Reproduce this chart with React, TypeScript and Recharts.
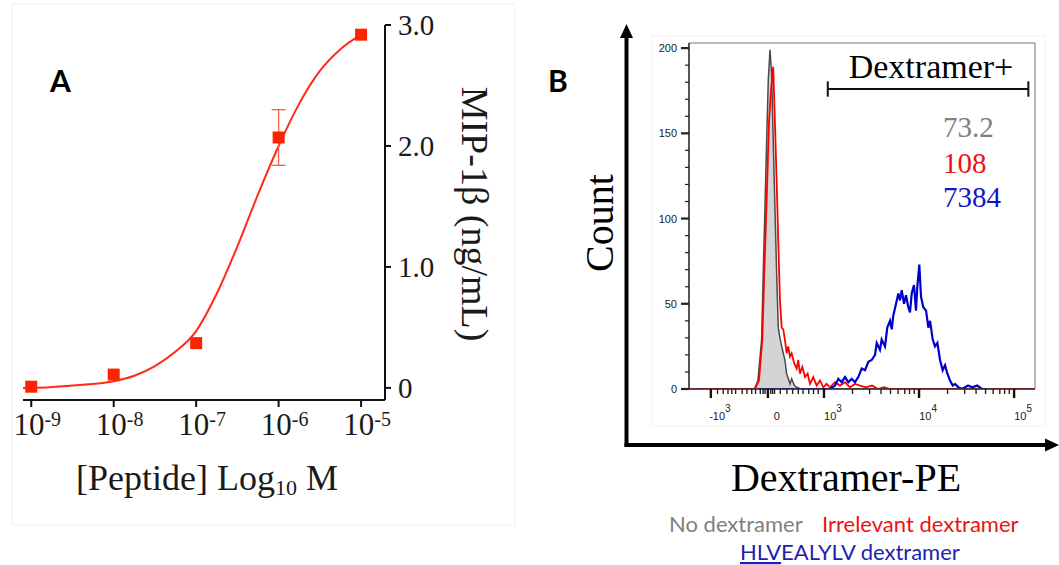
import {
  ComposedChart,
  Line,
  Scatter,
  ErrorBar,
  Area,
  XAxis,
  YAxis,
  ReferenceArea,
  ReferenceLine,
} from "recharts";

const SERIF = '"Liberation Serif", "Times New Roman", Times, serif';
const ARIAL = '"Liberation Sans", Arial, sans-serif';
const CALIBRI = 'Lato, "Open Sans", sans-serif';

// ---- panel A: MIP-1β release vs peptide concentration ----
const doseExponents = [-9, -8, -7, -6, -5];
const mipMeans = [0.01, 0.11, 0.37, 2.07, 2.92];
const mipErrors = [null, null, null, [0.23, 0.23], null];
const fitExponents = [-9.1, -9, -8.5, -8, -7.75, -7.5, -7.25, -7, -6.75, -6.5, -6.25, -6, -5.75, -5.5, -5.25, -5];
const fitMip = [0, 0, 0.02, 0.055, 0.1, 0.18, 0.3, 0.47, 0.78, 1.17, 1.6, 2.0, 2.35, 2.62, 2.8, 2.92];
const mipTicks = [0, 1, 2, 3];

const dosePoints = doseExponents.map((x, i) => ({ x, y: mipMeans[i], err: mipErrors[i] ?? undefined }));
const fitCurve = fitExponents.map((x, i) => ({ x, y: fitMip[i] }));

// ---- panel B: dextramer-PE histograms (x in display decades) ----
const noDextramer = [
  [1.58, 0], [2.27, 0], [2.305, 5], [2.344, 29], [2.361, 68], [2.379, 107], [2.397, 146], [2.414, 181],
  [2.432, 199], [2.449, 185], [2.466, 146], [2.484, 107], [2.502, 68], [2.519, 36], [2.537, 30], [2.555, 25],
  [2.572, 21], [2.589, 17], [2.607, 9], [2.625, 6], [2.642, 3], [2.66, 6], [2.674, 4], [2.69, 2], [2.713, 1],
  [2.75, 0], [5.22, 0],
];
const irrelevantDextramer = [
  [1.58, 0], [2.274, 0], [2.316, 5], [2.351, 29], [2.372, 68], [2.397, 111], [2.421, 156], [2.442, 175],
  [2.466, 189], [2.484, 156], [2.502, 122], [2.519, 87], [2.537, 52], [2.555, 36], [2.572, 35], [2.589, 29],
  [2.607, 21], [2.624, 25], [2.642, 19], [2.66, 21], [2.687, 15], [2.713, 12], [2.729, 17], [2.747, 9],
  [2.772, 13], [2.8, 7], [2.828, 9], [2.853, 3], [2.887, 7], [2.923, 2], [2.958, 5], [2.993, 1], [3.028, 3],
  [3.063, 1], [3.116, 4], [3.168, 2], [3.221, 4], [3.274, 1], [3.326, 3], [3.379, 2], [3.442, 1], [3.505, 2],
  [3.568, 0], [3.632, 1], [3.695, 0], [5.22, 0],
];
const hlvDextramer = [
  [2.3, 0], [3.063, 0], [3.116, 2], [3.151, 6], [3.186, 4], [3.221, 7], [3.256, 4], [3.292, 6], [3.326, 4],
  [3.361, 7], [3.397, 12], [3.432, 11], [3.467, 16], [3.502, 17], [3.537, 20], [3.555, 27], [3.589, 23],
  [3.607, 29], [3.642, 25], [3.666, 36], [3.695, 40], [3.713, 35], [3.729, 43], [3.758, 50], [3.782, 56],
  [3.8, 52], [3.818, 58], [3.842, 50], [3.863, 55], [3.887, 48], [3.905, 45], [3.923, 56], [3.947, 61],
  [3.968, 46], [3.982, 60], [4.003, 73], [4.021, 54], [4.045, 48], [4.074, 46], [4.098, 36], [4.116, 40],
  [4.144, 29], [4.168, 25], [4.193, 27], [4.221, 17], [4.249, 11], [4.274, 14], [4.298, 9], [4.326, 5],
  [4.355, 2], [4.379, 3], [4.414, 1], [4.453, 0], [4.516, 2], [4.558, 1], [4.611, 2], [4.663, 0], [4.72, 0],
];
const countTicks = [0, 10, 20, 30, 40, 50, 60, 70, 80, 90, 100, 110, 120, 130, 140, 150, 160, 170, 180, 190, 200];
const peMajorTicks = [1.81, 2.41, 3, 4, 5];
const peMajorLabels = [["-10", "3"], ["0", ""], ["10", "3"], ["10", "4"], ["10", "5"]];
const peMinorTicks = [
  1.88, 1.94, 1.99, 2.03, 2.07, 2.14, 2.19, 2.24, 2.28, 2.33, 2.36, 2.38, 2.44, 2.46, 2.48,
  2.54, 2.61, 2.67, 2.73, 2.78, 2.84, 2.89, 2.94,
  3.3, 3.48, 3.6, 3.7, 3.78, 3.85, 3.9, 3.95, 4.3, 4.48, 4.6, 4.7, 4.78, 4.85, 4.9, 4.95,
];
const gateFrom = 3.04;
const gateTo = 5.15;
const gateLevel = 176;
const gateMfi = ["73.2", "108", "7384"];

const toXY = (rows: number[][]) => rows.map(([x, y]) => ({ x, y }));
const peTicks = [...peMajorTicks, ...peMinorTicks].sort((a, b) => a - b);

function DoseTick({ x, y, payload }: any) {
  return (
    <text x={x + 6} y={y + 28} textAnchor="middle" fontFamily={SERIF} fontSize={31} fill="#1a1a1a">
      10
      <tspan dy={-9} fontSize={20}>{String(payload.value)}</tspan>
    </text>
  );
}

function PeTick({ x, y, payload }: any) {
  const i = peMajorTicks.indexOf(payload.value);
  if (i < 0) return <line x1={x} x2={x} y1={y} y2={y + 5} stroke="#222" strokeWidth={1.4} />;
  const [base, exp] = peMajorLabels[i];
  return (
    <g>
      <line x1={x} x2={x} y1={y} y2={y + 9} stroke="#111" strokeWidth={2.4} />
      <text x={x + 9} y={y + 31} textAnchor="middle" fontFamily={ARIAL} fontSize={11} fill="#222">
        {base}
        {exp ? <tspan dy={-8} fontSize={10}>{exp}</tspan> : null}
      </text>
    </g>
  );
}

function CountTick({ x, y, payload }: any) {
  const v = payload.value;
  const major = v % 50 === 0;
  return (
    <g>
      <line x1={x - (major ? 8 : 4)} x2={x} y1={y} y2={y} stroke="#222" strokeWidth={major ? 2.2 : 1.2} />
      {major && (
        <text x={x - 12} y={y + 4} textAnchor="end" fontFamily={ARIAL} fontSize={11} fill="#222">
          {v}
        </text>
      )}
    </g>
  );
}

const SquareDot = ({ cx, cy }: any) => <rect x={cx - 6} y={cy - 6} width={12} height={12} fill="#ff2200" />;

export default function App() {
  return (
    <div style={{ position: "absolute", left: 0, top: 0, width: 1059, height: 565, background: "#fff", overflow: "hidden" }}>
      <div style={{ position: "absolute", left: 0, top: 0 }}>
        <ComposedChart width={540} height={565} margin={{ top: 25, right: 55, bottom: 125, left: 23 }}>
          <XAxis
            dataKey="x"
            type="number"
            domain={[-9.1, -4.71]}
            allowDataOverflow
            ticks={doseExponents}
            interval={0}
            height={40}
            tickSize={7}
            tickMargin={0}
            axisLine={{ stroke: "#111", strokeWidth: 2 }}
            tickLine={{ stroke: "#111", strokeWidth: 2 }}
            tick={<DoseTick />}
          />
          <YAxis
            type="number"
            orientation="right"
            domain={[-0.1, 3]}
            allowDataOverflow
            ticks={mipTicks}
            interval={0}
            width={100}
            tickSize={6}
            tickMargin={7}
            axisLine={{ stroke: "#111", strokeWidth: 2 }}
            tickLine={{ stroke: "#111", strokeWidth: 2 }}
            tick={{ fontFamily: SERIF, fontSize: 29, fill: "#1a1a1a" }}
            tickFormatter={(v: number) => (v === 0 ? "0" : v.toFixed(1))}
          />
          <Line data={fitCurve} dataKey="y" type="monotone" stroke="#ff2a17" strokeWidth={2} dot={false} isAnimationActive={false} />
          <Scatter data={dosePoints} dataKey="y" fill="#ff2200" shape={<SquareDot />} isAnimationActive={false}>
            <ErrorBar dataKey="err" direction="y" width={7} stroke="#ff5c4a" strokeWidth={1.3} />
          </Scatter>
        </ComposedChart>
      </div>

      <div style={{ position: "absolute", left: 540, top: 0 }}>
        <ComposedChart width={519} height={565} margin={{ top: 43, right: 24, bottom: 136, left: 89 }}>
          <XAxis
            dataKey="x"
            type="number"
            domain={[1.58, 5.22]}
            allowDataOverflow
            ticks={peTicks}
            interval={0}
            height={40}
            tickSize={0}
            tickMargin={0}
            tickLine={false}
            axisLine={{ stroke: "#333", strokeWidth: 1.5 }}
            tick={<PeTick />}
          />
          <YAxis
            type="number"
            domain={[0, 203]}
            allowDataOverflow
            ticks={countTicks}
            interval={0}
            width={60}
            tickSize={0}
            tickMargin={0}
            tickLine={false}
            axisLine={{ stroke: "#333", strokeWidth: 1.5 }}
            tick={<CountTick />}
          />
          <ReferenceArea x1={1.58} x2={5.22} y1={0} y2={203} fill="none" stroke="#777" strokeWidth={1} ifOverflow="visible" />
          <Area data={toXY(noDextramer)} dataKey="y" type="linear" stroke="#4a4a4a" strokeWidth={1.5} fill="#d4d4d4" fillOpacity={1} isAnimationActive={false} />
          <Line data={toXY(irrelevantDextramer)} dataKey="y" type="linear" stroke="#ff0000" strokeWidth={1.8} dot={false} isAnimationActive={false} />
          <Line data={toXY(hlvDextramer)} dataKey="y" type="linear" stroke="#0000cc" strokeWidth={2.2} dot={false} isAnimationActive={false} />
          <ReferenceLine segment={[{ x: gateFrom, y: gateLevel }, { x: gateTo, y: gateLevel }]} stroke="#111" strokeWidth={2} />
          <ReferenceLine segment={[{ x: gateFrom, y: gateLevel - 4.5 }, { x: gateFrom, y: gateLevel + 4.5 }]} stroke="#111" strokeWidth={2} />
          <ReferenceLine segment={[{ x: gateTo, y: gateLevel - 4.5 }, { x: gateTo, y: gateLevel + 4.5 }]} stroke="#111" strokeWidth={2} />
        </ComposedChart>
      </div>

      <svg width={1059} height={565} style={{ position: "absolute", left: 0, top: 0, pointerEvents: "none" }}>
        <rect x={12} y={4} width={503} height={521} fill="none" stroke="#efefef" />
        <rect x={652} y={36} width={393} height={390} fill="none" stroke="#f2f2f2" />

        <text x={50} y={92} fontFamily={CALIBRI} fontWeight={700} fontSize={30} fill="#000">A</text>
        <text x={548} y={92} fontFamily={CALIBRI} fontWeight={700} fontSize={30} fill="#000">B</text>

        <text transform="translate(462,214) rotate(90)" textAnchor="middle" fontFamily={SERIF} fontSize={38} fill="#1a1a1a">
          MIP-1β (ng/mL)
        </text>
        <text x={207} y={490} textAnchor="middle" fontFamily={SERIF} fontSize={36} fill="#1a1a1a">
          [Peptide] Log
          <tspan dy={5} fontSize={22}>10</tspan>
          <tspan dy={-5}> M</tspan>
        </text>

        <line x1={626.5} y1={36} x2={626.5} y2={447} stroke="#000" strokeWidth={4} />
        <polygon points="626.5,24 620,38 633,38" fill="#000" />
        <line x1={624.5} y1={445} x2={1047} y2={445} stroke="#000" strokeWidth={4} />
        <polygon points="1059,445 1045,438.5 1045,451.5" fill="#000" />

        <text transform="translate(613,223) rotate(-90)" textAnchor="middle" fontFamily={SERIF} fontSize={40} fill="#000">
          Count
        </text>
        <text x={846} y={491} textAnchor="middle" fontFamily={SERIF} fontSize={40} fill="#000">
          Dextramer-PE
        </text>

        <text x={931} y={78} textAnchor="middle" fontFamily={SERIF} fontSize={34} fill="#000">Dextramer+</text>
        <text x={943} y={137} fontFamily={SERIF} fontSize={29} fill="#808080">{gateMfi[0]}</text>
        <text x={943} y={173} fontFamily={SERIF} fontSize={29} fill="#ee1111">{gateMfi[1]}</text>
        <text x={943} y={207} fontFamily={SERIF} fontSize={29} fill="#1515c0">{gateMfi[2]}</text>

        <text x={669} y={532} fontFamily={CALIBRI} fontSize={22} fill="#7f7f7f">No dextramer</text>
        <text x={822} y={532} fontFamily={CALIBRI} fontSize={22} fill="#ee1111">Irrelevant dextramer</text>
        <text x={740} y={560} fontFamily={CALIBRI} fontSize={22} fill="#1f1fae">
          <tspan style={{ textDecoration: "underline" }}>HLV</tspan>EALYLV dextramer
        </text>
      </svg>
    </div>
  );
}
